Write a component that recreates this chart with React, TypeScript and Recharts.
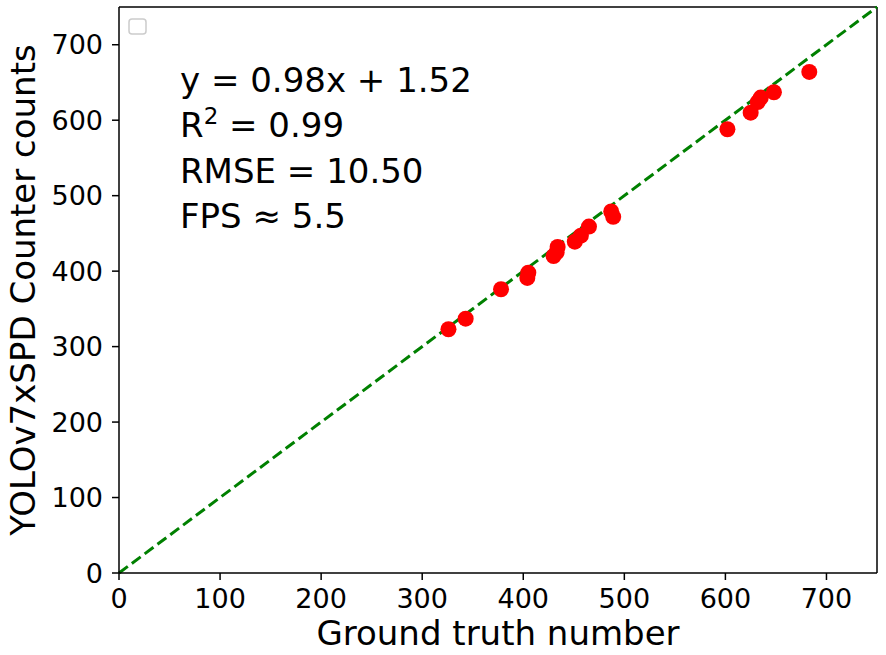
import React from "react";
import {
  ScatterChart,
  Scatter,
  XAxis,
  YAxis,
  ReferenceLine,
  Label,
} from "recharts";

// ground truth vs. model counts
const groundTruth = [326, 343, 378, 404, 405, 430, 433, 434, 451, 457, 465, 487, 489, 602, 625, 632, 635, 648, 683];
const predicted = [323, 337, 376, 391, 398, 420, 425, 432, 439, 447, 459, 479, 472, 588, 610, 624, 630, 637, 664];
const axisTicks = [0, 100, 200, 300, 400, 500, 600, 700];
const identityLine = [
  { x: 0, y: 0 },
  { x: 750, y: 750 },
];
const statLines = ["y = 0.98x + 1.52", "R", "RMSE = 10.50", "FPS \u2248 5.5"];

const points = groundTruth.map((g, i) => ({ x: g, y: predicted[i] }));

const FONT = "'DejaVu Sans', sans-serif";

const Dot = (props: any) => <circle cx={props.cx} cy={props.cy} r={8} fill="#ff0000" />;

const YLabel = (props: any) => {
  const vb = props.viewBox;
  const cy = vb.y + vb.height / 2;
  const cx = 35;
  return (
    <text
      x={cx}
      y={cy}
      transform={`rotate(-90 ${cx} ${cy})`}
      textAnchor="middle"
      fontSize={34}
      fontFamily={FONT}
      fill="#000"
    >
      YOLOv7xSPD Counter counts
    </text>
  );
};

export default function App() {
  return (
    <div style={{ position: "absolute", left: 0, top: 0, width: 886, height: 655, background: "#fff" }}>
      <ScatterChart width={886} height={655} margin={{ top: 7, right: 9, bottom: 0, left: 0 }}>
        <XAxis
          type="number"
          dataKey="x"
          domain={[0, 750]}
          ticks={axisTicks}
          height={82}
          allowDataOverflow
          tick={{ fill: "#000", fontSize: 27, fontFamily: FONT }}
          tickSize={7}
          tickMargin={9}
          axisLine={{ stroke: "#000", strokeWidth: 1.5 }}
          tickLine={{ stroke: "#000", strokeWidth: 1.5 }}
        >
          <Label
            value="Ground truth number"
            position="insideBottom"
            offset={10}
            style={{ fontSize: 34, fontFamily: FONT, fill: "#000" }}
          />
        </XAxis>
        <YAxis
          type="number"
          dataKey="y"
          domain={[0, 750]}
          ticks={axisTicks}
          width={119}
          allowDataOverflow
          tick={{ fill: "#000", fontSize: 27, fontFamily: FONT }}
          tickSize={7}
          tickMargin={9}
          axisLine={{ stroke: "#000", strokeWidth: 1.5 }}
          tickLine={{ stroke: "#000", strokeWidth: 1.5 }}
        >
          <Label content={<YLabel />} />
        </YAxis>
        <ReferenceLine y={750} stroke="#000" strokeWidth={1.5} />
        <ReferenceLine x={750} stroke="#000" strokeWidth={1.5} />
        <Scatter data={points} shape={<Dot />} isAnimationActive={false} />
        <ReferenceLine
          segment={identityLine}
          stroke="#008000"
          strokeWidth={3}
          strokeDasharray="11 5"
        />
      </ScatterChart>
      <svg
        width={886}
        height={655}
        style={{ position: "absolute", left: 0, top: 0, pointerEvents: "none" }}
      >
        <rect x={129} y={19} width={17} height={15} rx={3} fill="#fff" stroke="#cccccc" strokeWidth={1.5} />
        <g fontFamily={FONT} fontSize={34} fill="#000">
          <text x={180} y={92}>{statLines[0]}</text>
          <text x={180} y={137}>
            {statLines[1]}
            <tspan dy={-13} fontSize={23}>2</tspan>
            <tspan dy={13}> = 0.99</tspan>
          </text>
          <text x={180} y={183}>{statLines[2]}</text>
          <text x={180} y={228}>{statLines[3]}</text>
        </g>
      </svg>
    </div>
  );
}
